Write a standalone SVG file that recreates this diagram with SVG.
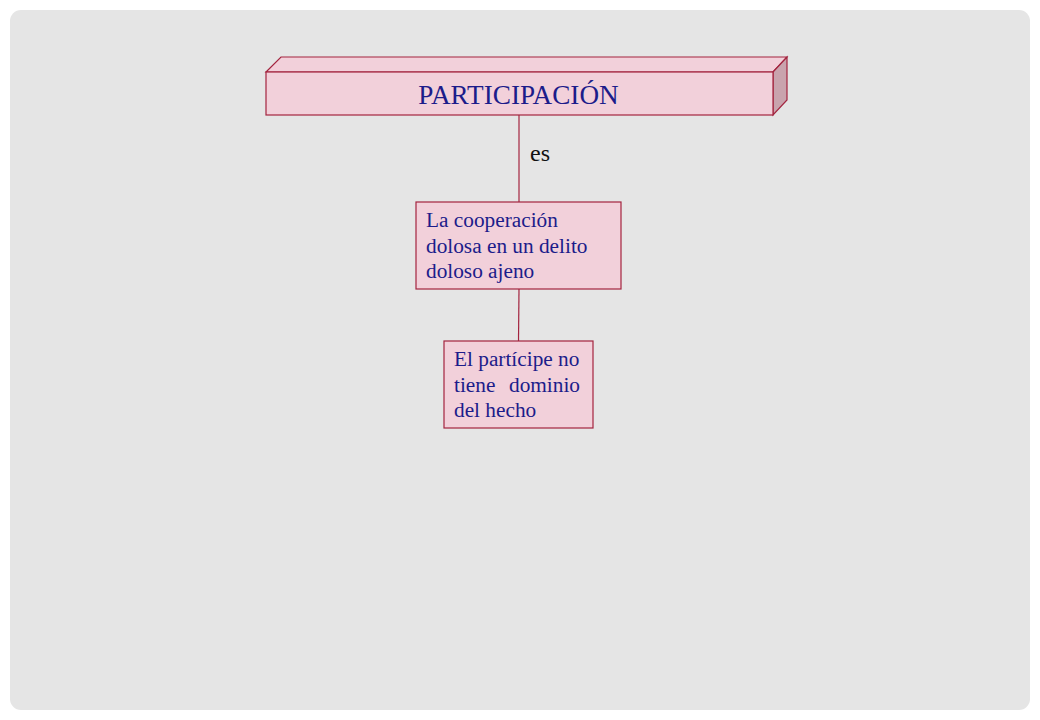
<svg xmlns="http://www.w3.org/2000/svg" width="1040" height="720" viewBox="0 0 1040 720">
<style>
.box{fill:#f2d0da;stroke:#a3243f;stroke-width:1.2}
.side{fill:#c9a3ad;stroke:#a3243f;stroke-width:1.2}
.conn{stroke:#a3243f;stroke-width:1.2;fill:none}
.t{font-family:"Liberation Serif","Times New Roman",serif;fill:#1c1c8a;font-size:21.3px}
</style>
<rect x="0" y="0" width="1040" height="720" fill="#ffffff"/>
<rect x="10" y="10" width="1020" height="700" rx="11" fill="#e5e5e5"/>
<g id="connectors">
<line class="conn" x1="519" y1="115" x2="519" y2="202"/>
<line class="conn" x1="519" y1="289" x2="518.5" y2="341"/>
<text x="530" y="161" font-family="Liberation Serif, serif" font-size="24" fill="#111">es</text>
</g>
<g id="participacion">
<polygon class="box" points="266,72 281,57 787,57 773,72"/>
<polygon class="side" points="773,72 787,57 787,100 773,115"/>
<rect class="box" x="266" y="72" width="507" height="43"/>
<text class="t" x="518.5" y="104" style="font-size:27.2px" text-anchor="middle">PARTICIPACIÓN</text>
</g>
<g id="cooperacion">
<rect class="box" x="416" y="202" width="205" height="87"/>
<text class="t" x="426" y="227">La cooperación</text>
<text class="t" x="426" y="253">dolosa en un delito</text>
<text class="t" x="426" y="278">doloso ajeno</text>
</g>
<g id="participe">
<rect class="box" x="444" y="341" width="149" height="87"/>
<text class="t" x="454" y="366">El partícipe no</text>
<text class="t" x="454" y="392">tiene</text>
<text class="t" x="580" y="392" text-anchor="end">dominio</text>
<text class="t" x="454" y="417">del hecho</text>
</g>
</svg>
